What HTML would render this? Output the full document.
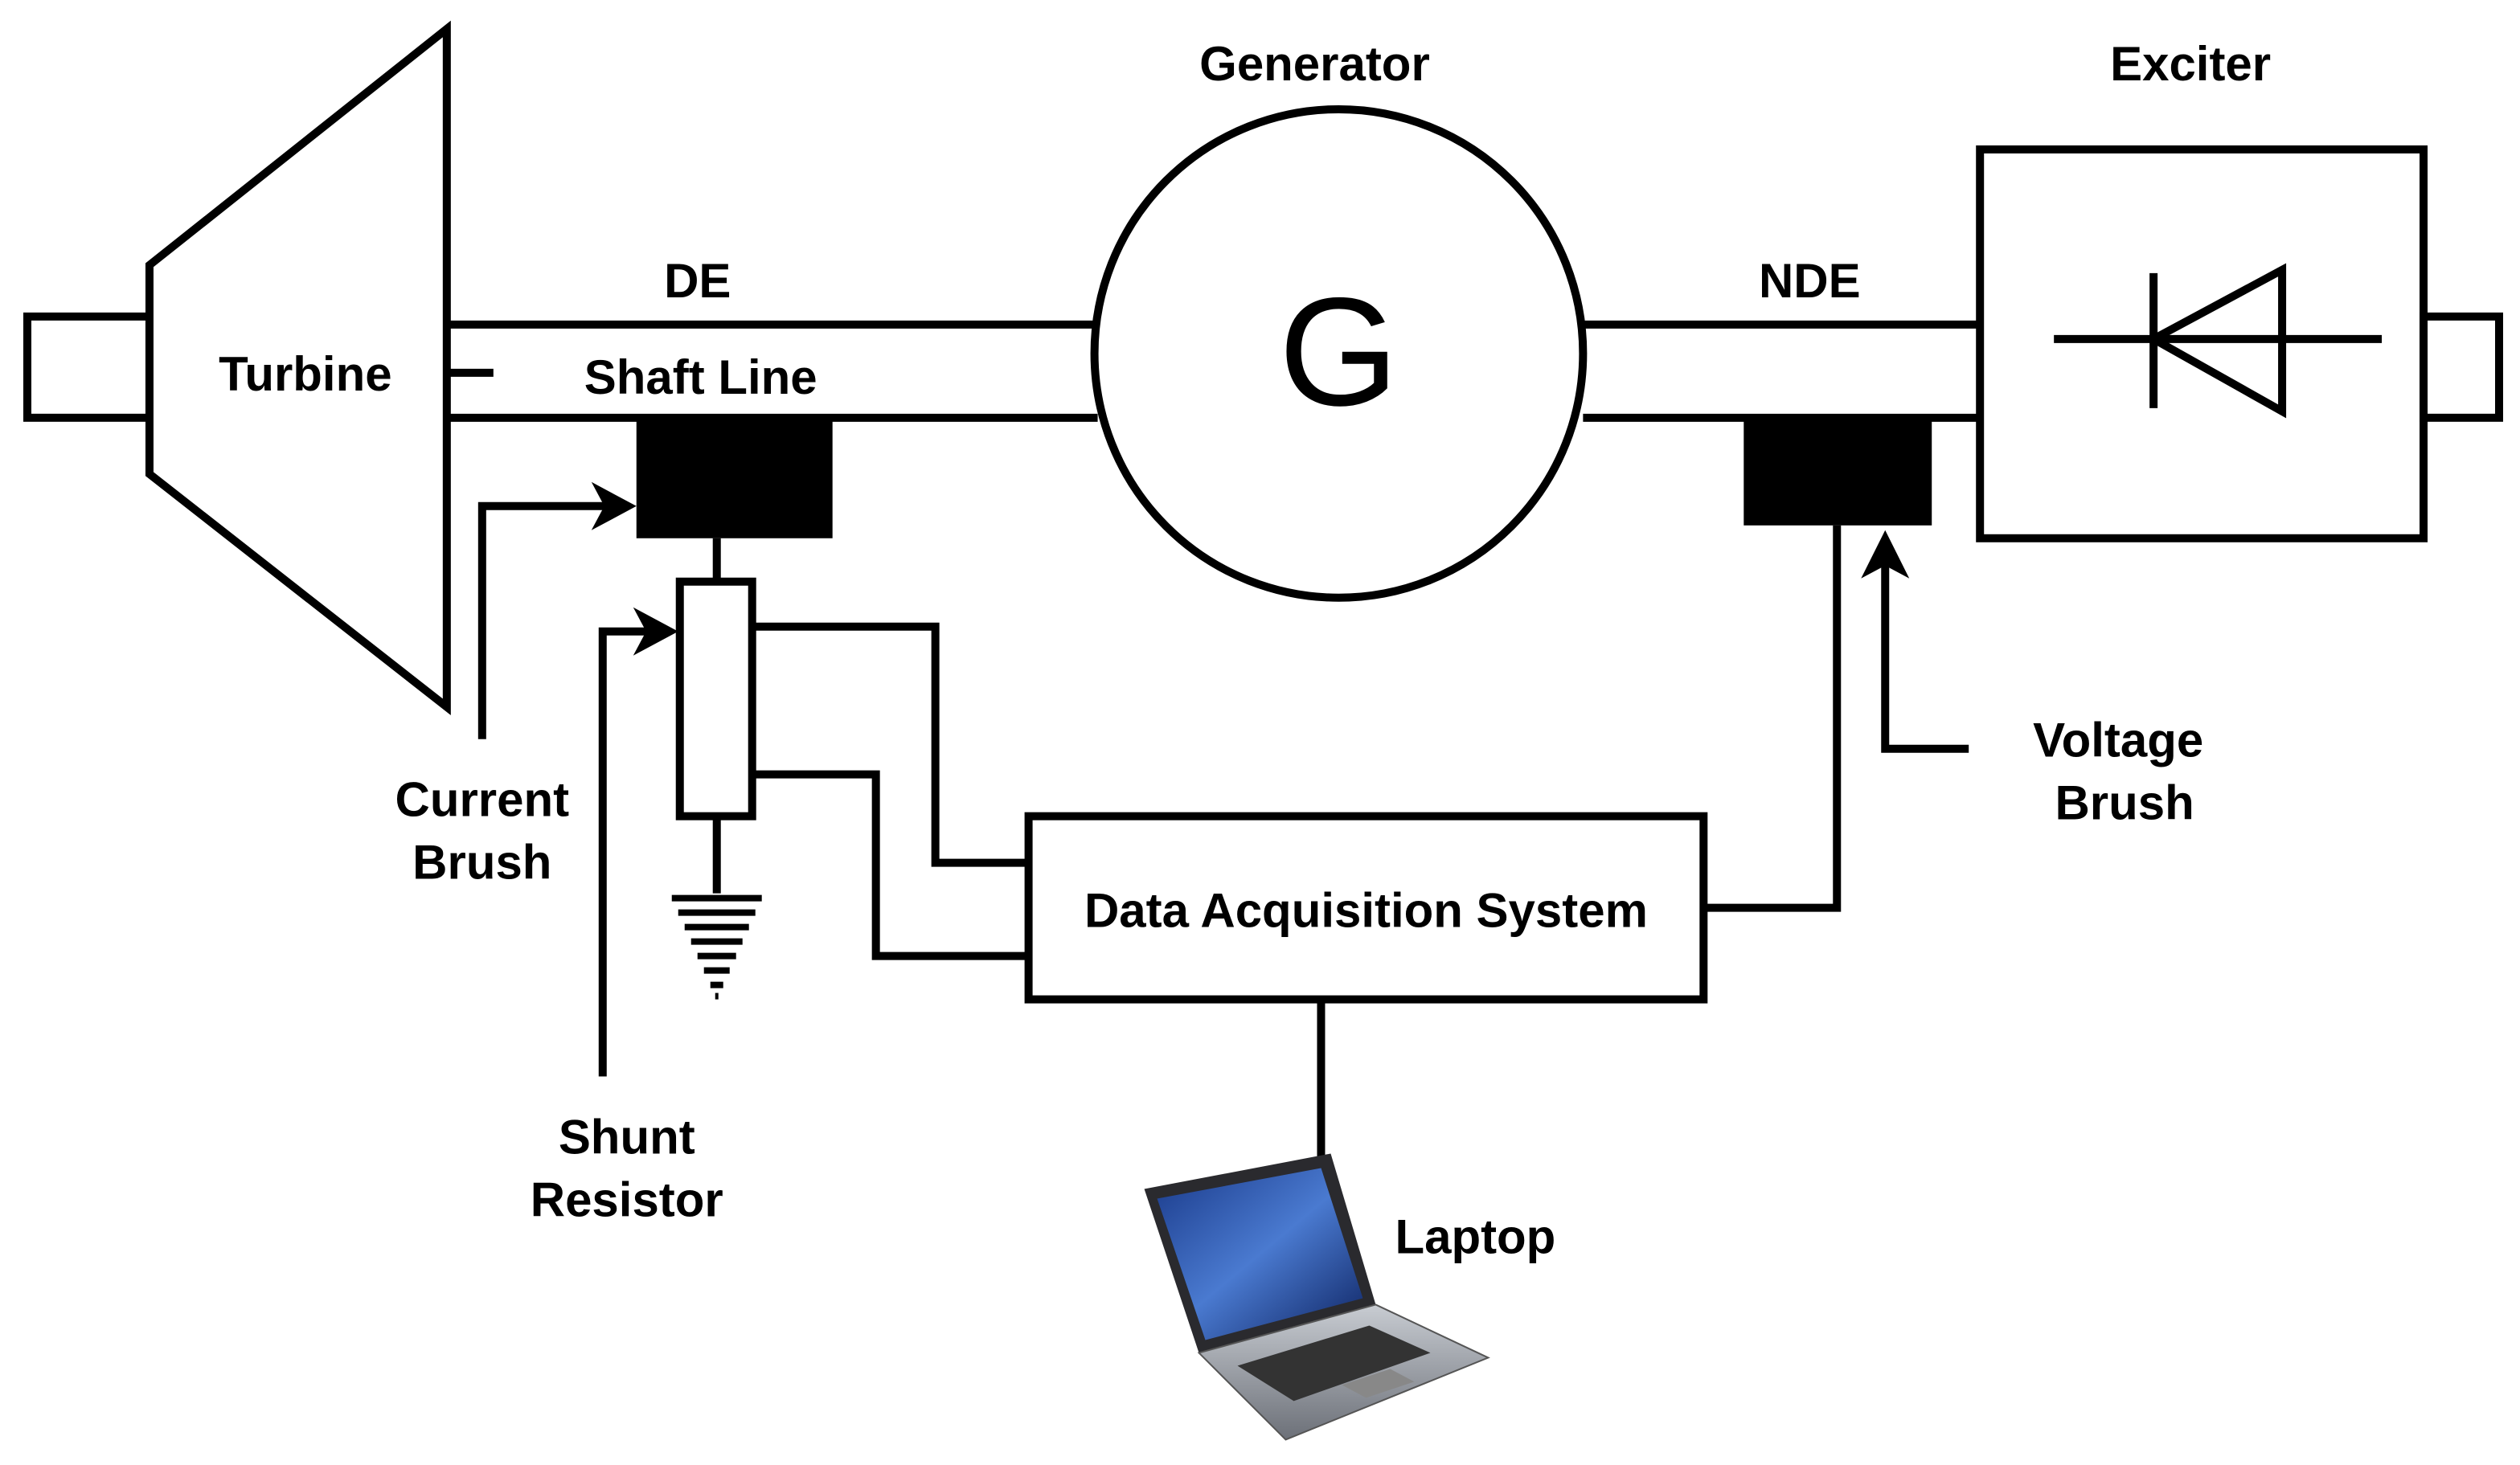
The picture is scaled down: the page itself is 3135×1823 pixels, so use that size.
<!DOCTYPE html>
<html><head><meta charset="utf-8"><style>html,body{margin:0;padding:0;background:#fff}svg{display:block}</style></head>
<body>
<svg width="3135" height="1823" viewBox="0 0 1568 911.8" xmlns="http://www.w3.org/2000/svg">
<defs>
<linearGradient id="scr" x1="0" y1="0" x2="1" y2="1"><stop offset="0" stop-color="#1a3a8a"/><stop offset="0.5" stop-color="#4a7ad0"/><stop offset="1" stop-color="#0d2260"/></linearGradient>
<linearGradient id="base" x1="0" y1="0" x2="0" y2="1"><stop offset="0" stop-color="#c8ccd2"/><stop offset="1" stop-color="#6c7078"/></linearGradient>
</defs>
<g fill="none" stroke="#000" stroke-width="5">
<rect x="17" y="197" width="76" height="63"/>
<polygon points="93,165 278,18 278,440 93,295" fill="#fff"/>
<line x1="278" y1="232" x2="307" y2="232"/>
<line x1="278" y1="202" x2="683" y2="202"/>
<line x1="278" y1="260" x2="683" y2="260"/>
<line x1="985" y1="202" x2="1232" y2="202"/>
<line x1="985" y1="260" x2="1232" y2="260"/>
<circle cx="833" cy="220" r="152" fill="#fff"/>
<rect x="1232" y="93" width="276" height="242"/>
<rect x="1508" y="197" width="47" height="63"/>
<line x1="1278" y1="211" x2="1482" y2="211"/>
<line x1="1340" y1="170" x2="1340" y2="254"/>
<polygon points="1420,168 1420,256 1340,211"/>
<line x1="446" y1="335" x2="446" y2="362"/>
<rect x="423" y="362" width="45" height="146"/>
<line x1="446" y1="508" x2="446" y2="556"/>
<polyline points="300,460 300,315 382,315"/>
<polyline points="375,670 375,393 408,393"/>
<polyline points="468,390 582,390 582,537 640,537"/>
<polyline points="468,482 545,482 545,595 640,595"/>
<rect x="640" y="508" width="420" height="114"/>
<polyline points="1060,565 1143,565 1143,327"/>
<polyline points="1225,466 1173,466 1173,348"/>
<line x1="822" y1="622" x2="822" y2="722"/>
</g>
<g stroke="#000" stroke-width="4">
<line x1="418" y1="559" x2="474" y2="559"/>
<line x1="422" y1="568" x2="470" y2="568"/>
<line x1="426" y1="577" x2="466" y2="577"/>
<line x1="430" y1="586" x2="462" y2="586"/>
<line x1="434" y1="595" x2="458" y2="595"/>
<line x1="438" y1="604" x2="454" y2="604"/>
<line x1="442" y1="613" x2="450" y2="613"/>
<line x1="445" y1="620" x2="447" y2="620"/>
</g>
<rect x="396" y="260" width="122" height="75" fill="#000"/>
<rect x="1085" y="260" width="117" height="67" fill="#000"/>
<polygon points="396,315 368,300 376,315 368,330" fill="#000"/>
<polygon points="422,393 394,378 402,393 394,408" fill="#000"/>
<polygon points="1173,330 1158,360 1173,352 1188,360" fill="#000"/>
<polygon points="712,740 828,718 856,812 746,842" fill="#2a2a2e"/>
<polygon points="720,746 822,727 848,808 750,834" fill="url(#scr)"/>
<polygon points="746,842 856,812 926,845 800,896" fill="url(#base)" stroke="#555" stroke-width="1"/>
<polygon points="770,850 852,825 890,842 805,872" fill="#333"/>
<polygon points="835,862 865,852 880,860 850,870" fill="#888"/>
<g font-family="Liberation Sans, sans-serif" font-weight="bold" font-size="30" text-anchor="middle" fill="#000">
<text x="818" y="50">Generator</text>
<text x="1363" y="50">Exciter</text>
<text x="434" y="185">DE</text>
<text x="1126" y="185">NDE</text>
<text x="190" y="243">Turbine</text>
<text x="436" y="245">Shaft Line</text>
<text x="300" y="508">Current</text>
<text x="300" y="547">Brush</text>
<text x="390" y="718">Shunt</text>
<text x="390" y="757">Resistor</text>
<text x="1318" y="471">Voltage</text>
<text x="1322" y="510">Brush</text>
<text x="918" y="780">Laptop</text>
<text x="850" y="577">Data Acquisition System</text>
<text x="833" y="252" font-weight="normal" font-size="96">G</text>
</g>
</svg>
</body></html>
